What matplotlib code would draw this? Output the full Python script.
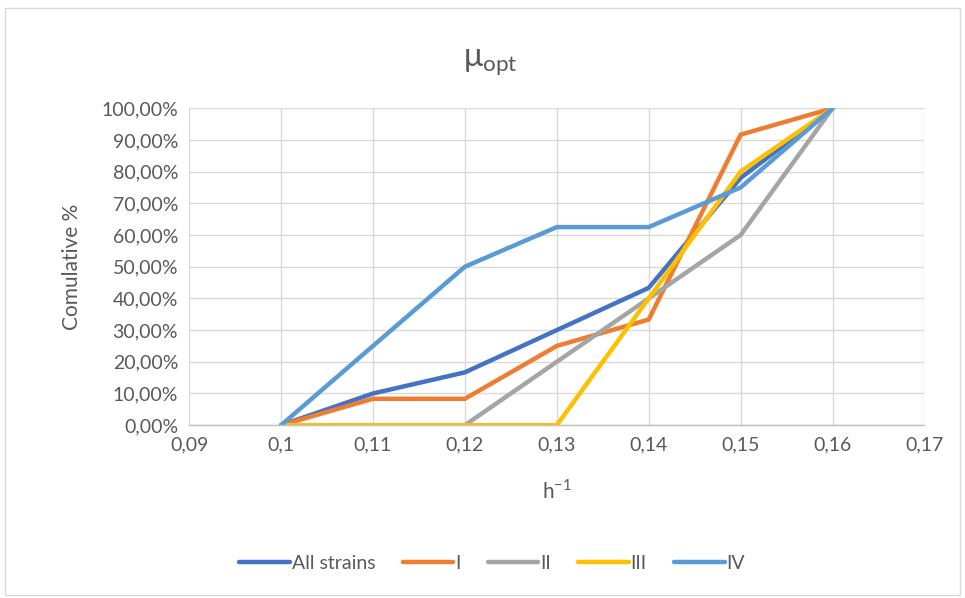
import matplotlib

matplotlib.use("Agg")
import matplotlib.pyplot as plt
from matplotlib.patches import Rectangle
from matplotlib.ticker import FuncFormatter, MultipleLocator

plt.rcParams["font.family"] = ["Lato", "DejaVu Sans"]

# data (cumulative %, by growth rate h^-1)
x_all = [0.10, 0.11, 0.12, 0.13, 0.14, 0.15, 0.16]
all_strains = [0, 10, 16.67, 30, 43.33, 78, 100]
strain_i = [0, 8.33, 8.33, 25, 33.33, 91.67, 100]
strain_ii = [0, 0, 0, 20, 40, 60, 100]
strain_iii = [0, 0, 0, 0, 40, 80, 100]
strain_iv = [0, 25, 50, 62.5, 62.5, 75, 100]

series = [
    ("All strains", all_strains, "#4472C4"),
    ("I", strain_i, "#ED7D31"),
    ("II", strain_ii, "#A5A5A5"),
    ("III", strain_iii, "#FFC000"),
    ("IV", strain_iv, "#5B9BD5"),
]

TXT = "#595959"
GRID = "#D9D9D9"

fig = plt.figure(figsize=(9.65, 5.98), dpi=100)
ax = fig.add_axes([0.196, 0.289, 0.762, 0.530])

for name, vals, col in series:
    ax.plot(x_all, vals, color=col, linewidth=3.2, label=name,
            solid_capstyle="round", solid_joinstyle="miter")

ax.set_xlim(0.09, 0.17)
ax.set_ylim(0, 100)
ax.xaxis.set_major_locator(MultipleLocator(0.01))
ax.yaxis.set_major_locator(MultipleLocator(10))


def _xfmt(v, _pos):
    s = f"{v:.2f}".rstrip("0").rstrip(".")
    return s.replace(".", ",")


ax.xaxis.set_major_formatter(FuncFormatter(_xfmt))
ax.yaxis.set_major_formatter(FuncFormatter(lambda v, _p: f"{v:.2f}%".replace(".", ",")))

ax.grid(True, color=GRID, linewidth=1.0)
ax.set_axisbelow(True)
for side in ("top", "right", "left"):
    ax.spines[side].set_visible(False)
ax.spines["bottom"].set_color("#BFBFBF")
ax.spines["bottom"].set_linewidth(1.0)
ax.tick_params(axis="both", length=0, labelsize=14, colors=TXT, pad=8)

ax.set_xlabel("h$^{\\mathregular{-1}}$", fontsize=15, color=TXT, labelpad=18)
ax.set_ylabel("Comulative %", fontsize=15, color=TXT, labelpad=14)

fig.text(0.508, 0.895, "μ$_{\\mathregular{opt}}$", fontsize=23, color=TXT,
         ha="center", va="center")

fig.legend(loc="center", bbox_to_anchor=(0.51, 0.058), ncol=5, frameon=False,
           fontsize=14, labelcolor=TXT, handlelength=2.6, handletextpad=0.1,
           columnspacing=1.4)

fig.patches.append(Rectangle((0.005, 0.005), 0.99, 0.982, transform=fig.transFigure,
                             fill=False, edgecolor=GRID, linewidth=1.0))

fig.savefig("out.png", dpi=100)
